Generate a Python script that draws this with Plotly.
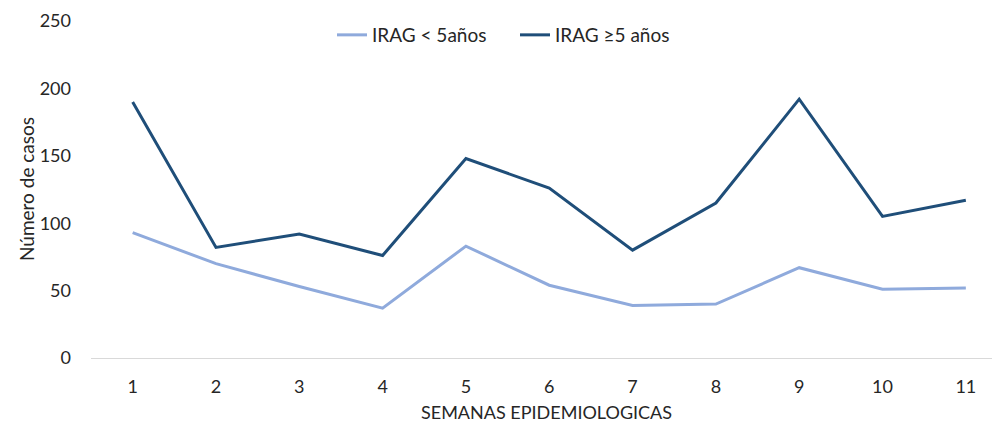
import plotly.graph_objects as go

semanas = [1, 2, 3, 4, 5, 6, 7, 8, 9, 10, 11]
irag_menor5 = [93, 70, 53, 37, 83, 54, 39, 40, 67, 51, 52]
irag_mayor5 = [190, 82, 92, 76, 148, 126, 80, 115, 192, 105, 117]
y_ticks = [0, 50, 100, 150, 200, 250]

FONT = "Lato"
# page body has an 8px margin: figure coords = screen coords - 8
fig = go.Figure()
fig.add_trace(go.Scatter(x=semanas, y=irag_menor5, mode="lines", name="IRAG < 5años",
                         line=dict(color="#8faadc", width=3)))
fig.add_trace(go.Scatter(x=semanas, y=irag_mayor5, mode="lines", name="IRAG ≥5 años",
                         line=dict(color="#1f4e79", width=3)))

fig.update_layout(
    width=992, height=418,
    margin=dict(l=83, r=0, t=13, b=68, autoexpand=False),
    paper_bgcolor="white", plot_bgcolor="white",
    font=dict(family=FONT, size=17, color="#262626"),
    showlegend=True,
    legend=dict(orientation="h", x=(332 - 91) / 909, xanchor="left",
                y=(358 - 35) / 337, yanchor="middle", entrywidth=138,
                font=dict(size=19), bgcolor="rgba(0,0,0,0)"),
    xaxis=dict(range=[0.5, 11.41], tickmode="array", tickvals=semanas,
               ticktext=[str(s) for s in semanas], showgrid=False, zeroline=False,
               showline=True, linecolor="#d9d9d9", linewidth=1, ticks="",
               ticklabelstandoff=12, tickfont=dict(size=18), automargin=False),
    yaxis=dict(range=[0, 250], tickmode="array", tickvals=y_ticks, showgrid=False,
               zeroline=False, showline=False, ticks="", ticklabelstandoff=19,
               tickfont=dict(size=18), automargin=False),
    hovermode=False,
)
fig.add_annotation(text="SEMANAS EPIDEMIOLOGICAS", xref="paper", yref="paper",
                   x=(546 - 91) / 909, y=-(412 - 358) / 337, showarrow=False,
                   xanchor="center", yanchor="middle", font=dict(size=18))
fig.add_annotation(text="Número de casos", xref="paper", yref="paper",
                   x=-(91 - 26) / 909, y=(358 - 189) / 337, showarrow=False, textangle=-90,
                   xanchor="center", yanchor="middle", font=dict(size=19))

fig.write_html("out.html")
